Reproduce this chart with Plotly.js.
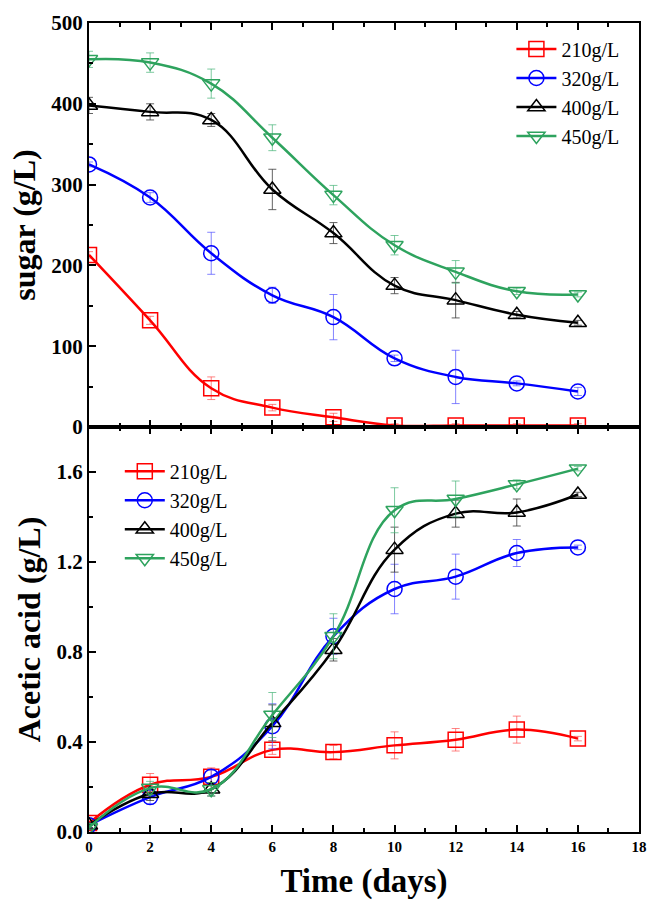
<!DOCTYPE html>
<html>
<head>
<meta charset="utf-8">
<script src="https://cdn.plot.ly/plotly-3.0.1.min.js"></script>
<style>html,body{margin:0;padding:0;background:#fff;}#chart{width:648px;height:900px;}</style>
</head>
<body>
<div id="chart"></div>
<script>
const days = [0, 2, 4, 6, 8, 10, 12, 14, 16];
const seriesNames = ['210g/L', '320g/L', '400g/L', '450g/L'];
const seriesColors = ['#ff0000', '#0000ff', '#000000', '#2ea35e'];
const errColors = ['rgba(255,80,80,0.7)', 'rgba(80,80,255,0.7)', 'rgba(60,60,60,0.8)', 'rgba(70,180,120,0.7)'];
const symbols = ['square-open', 'circle-open', 'triangle-up-open', 'triangle-down-open'];

// Sugar (g/L)
const sugar210 = [213, 132, 48, 24, 12, 2, 2, 2, 2];
const sugar320 = [325, 284, 215, 163, 136, 85, 62, 54, 44];
const sugar400 = [398, 390, 380, 294, 240, 175, 157, 139, 129];
const sugar450 = [455, 451, 425, 358, 287, 225, 192, 168, 164];
const sugarErr210 = [4, 5, 14, 4, 5, 2, 2, 2, 2];
const sugarErr320 = [3, 6, 26, 10, 28, 4, 33, 3, 5];
const sugarErr400 = [10, 10, 8, 25, 13, 10, 22, 4, 3];
const sugarErr450 = [10, 12, 18, 16, 12, 12, 14, 4, 3];

// Acetic acid (g/L)
const acid210 = [0.04, 0.21, 0.245, 0.365, 0.355, 0.385, 0.41, 0.455, 0.415];
const acid320 = [0.03, 0.155, 0.245, 0.47, 0.87, 1.08, 1.135, 1.24, 1.265];
const acid400 = [0.03, 0.17, 0.19, 0.485, 0.81, 1.255, 1.415, 1.42, 1.50];
const acid450 = [0.02, 0.195, 0.19, 0.52, 0.87, 1.43, 1.48, 1.545, 1.615];
const acidErr210 = [0.01, 0.05, 0.04, 0.02, 0.03, 0.06, 0.05, 0.06, 0.01];
const acidErr320 = [0.01, 0.03, 0.03, 0.1, 0.08, 0.11, 0.1, 0.06, 0.01];
const acidErr400 = [0.01, 0.03, 0.03, 0.08, 0.05, 0.1, 0.06, 0.06, 0.01];
const acidErr450 = [0.01, 0.03, 0.03, 0.1, 0.1, 0.1, 0.08, 0.02, 0.01];

const sugarData = [sugar210, sugar320, sugar400, sugar450];
const sugarErrs = [sugarErr210, sugarErr320, sugarErr400, sugarErr450];
const acidData = [acid210, acid320, acid400, acid450];
const acidErrs = [acidErr210, acidErr320, acidErr400, acidErr450];

const serif = '"Liberation Serif", "Times New Roman", serif';
const traces = [];
function mk(i, y, err, xa, ya, lg) {
  return {
    x: days, y: y, xaxis: xa, yaxis: ya, legend: lg, name: seriesNames[i],
    type: 'scatter', mode: 'lines+markers',
    line: {color: seriesColors[i], width: 2.5, shape: 'spline', smoothing: 1.2},
    marker: {symbol: symbols[i], size: 15, color: seriesColors[i], line: {width: 1.5, color: seriesColors[i]}},
    error_y: {type: 'data', array: err, visible: true, color: errColors[i], thickness: 1, width: 4}
  };
}
for (let i = 0; i < 4; i++) traces.push(mk(i, sugarData[i], sugarErrs[i], 'x', 'y', 'legend'));
for (let i = 0; i < 4; i++) traces.push(mk(i, acidData[i], acidErrs[i], 'x2', 'y2', 'legend2'));

const xTickFont = {family: serif, size: 15, color: '#000', weight: 'bold'};
const yTickFont = {family: serif, size: 21, color: '#000', weight: 'bold'};
const commonX = {
  range: [0, 18], dtick: 2, tick0: 0, ticks: 'inside', ticklen: 7, tickwidth: 2, tickcolor: '#000',
  minor: {dtick: 1, ticks: 'inside', ticklen: 4, tickwidth: 2, tickcolor: '#000'},
  showline: true, linewidth: 2, linecolor: '#000', mirror: 'ticks', showgrid: false, zeroline: false,
  tickfont: xTickFont
};
const commonY = {
  ticks: 'inside', ticklen: 7, tickwidth: 2, tickcolor: '#000',
  showline: true, linewidth: 2, linecolor: '#000', mirror: true, showgrid: false, zeroline: false,
  tickfont: yTickFont
};
const legendFont = {family: serif, size: 20, color: '#000'};

const layout = {
  width: 648, height: 900,
  margin: {l: 89, r: 9, t: 23, b: 68},
  paper_bgcolor: '#fff', plot_bgcolor: '#fff',
  showlegend: true,
  xaxis: Object.assign({}, commonX, {anchor: 'y', showticklabels: false}),
  yaxis: Object.assign({}, commonY, {domain: [0.5006, 1], range: [0, 500], dtick: 100,
    minor: {dtick: 50, ticks: 'inside', ticklen: 4, tickwidth: 2, tickcolor: '#000'},
    title: {text: 'sugar (g/L)', font: {family: serif, size: 32, color: '#000', weight: 'bold'}, standoff: 6}}),
  xaxis2: Object.assign({}, commonX, {anchor: 'y2', matches: 'x',
    title: {text: 'Time (days)', font: {family: serif, size: 33, color: '#000', weight: 'bold'}, standoff: 15}}),
  yaxis2: Object.assign({}, commonY, {domain: [0, 0.5006], range: [0, 1.8], dtick: 0.4, tick0: 0, tickformat: '.1f',
    minor: {dtick: 0.2, ticks: 'inside', ticklen: 4, tickwidth: 2, tickcolor: '#000'},
    title: {text: 'Acetic acid (g/L)', font: {family: serif, size: 32, color: '#000', weight: 'bold'}, standoff: 6}}),
  legend: {x: 0.768, y: 0.992, xanchor: 'left', yanchor: 'top', bgcolor: 'rgba(0,0,0,0)', font: legendFont, tracegroupgap: 0, itemwidth: 40},
  legend2: {x: 0.056, y: 0.47, xanchor: 'left', yanchor: 'top', bgcolor: 'rgba(0,0,0,0)', font: legendFont, tracegroupgap: 0, itemwidth: 40}
};

Plotly.newPlot('chart', traces, layout, {displayModeBar: false, staticPlot: true});
</script>
</body>
</html>
